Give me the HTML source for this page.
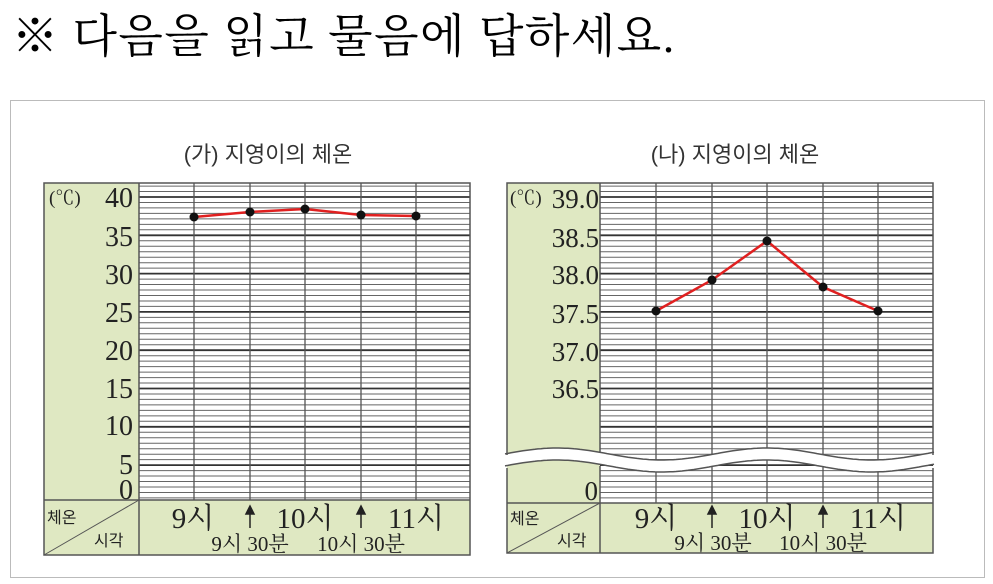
<!DOCTYPE html>
<html><head><meta charset="utf-8"><style>
body{margin:0;background:#fff;width:993px;height:584px;overflow:hidden}
svg{position:absolute;left:0;top:0}
.k{font-family:"Liberation Sans","Noto Sans CJK KR",sans-serif}
.s{font-family:"Liberation Serif","Noto Serif CJK KR","Noto Serif CJK SC",serif}
</style></head><body>
<svg id="g" width="993" height="584" xmlns="http://www.w3.org/2000/svg">
<text x="12" y="52" font-size="46" class="s" fill="#000" letter-spacing="1.5">※ 다음을 읽고 물음에 답하세요.</text>
<rect x="10.5" y="100.5" width="974" height="477" fill="none" stroke="#bbb"/>
<text x="268" y="162" font-size="22" class="k" text-anchor="middle" fill="#333">(가) 지영이의 체온</text>
<text x="735" y="162" font-size="22" class="k" text-anchor="middle" fill="#333">(나) 지영이의 체온</text>
<!-- left chart -->
<rect x="44" y="183" width="95" height="372" fill="#dfe8c2"/>
<rect x="139" y="500" width="331" height="55" fill="#dfe8c2"/>
<g id="L"></g>
<rect x="44" y="183" width="426" height="372" fill="none" stroke="#555" stroke-width="1.5"/>
<line x1="139" y1="183" x2="139" y2="555" stroke="#555" stroke-width="1.5"/>
<line x1="44" y1="500" x2="470" y2="500" stroke="#555" stroke-width="1.5"/>
<line x1="44" y1="555" x2="139" y2="500" stroke="#555"/>
<g class="s" font-size="28" fill="#222" text-anchor="end">
<text x="133" y="207">40</text><text x="133" y="246">35</text><text x="133" y="284">30</text><text x="133" y="322">25</text><text x="133" y="360">20</text><text x="133" y="398">15</text><text x="133" y="435">10</text><text x="133" y="474">5</text><text x="133" y="499">0</text>
</g>
<text x="49" y="204" class="s" font-size="19" fill="#222">(℃)</text>
<text x="47" y="523" class="k" font-size="16" fill="#222">체온</text>
<text x="94" y="546" class="k" font-size="16" fill="#222">시각</text>
<g class="s" font-size="29" fill="#222" text-anchor="middle">
<text x="193" y="528">9시</text><text x="305" y="528">10시</text><text x="416" y="528">11시</text></g>
<g class="s" font-size="21" fill="#222" text-anchor="middle">
<text x="250" y="551">9시 30분</text><text x="361" y="551">10시 30분</text></g>
<polyline points="194,217 250,212 305,209 361,215 416,216" fill="none" stroke="#e02020" stroke-width="2.5"/>
<g fill="#111"><circle cx="194" cy="217" r="4.5"/><circle cx="250" cy="212" r="4.5"/><circle cx="305" cy="209" r="4.5"/><circle cx="361" cy="215" r="4.5"/><circle cx="416" cy="216" r="4.5"/></g>
<!-- right chart -->
<rect x="507" y="183" width="93" height="370" fill="#dfe8c2"/>
<rect x="600" y="503" width="333" height="50" fill="#dfe8c2"/>
<g id="R"></g>
<path id="wf" fill="#fff"/>
<path id="w1" fill="none" stroke="#555" stroke-width="1.5"/>
<path id="w2" fill="none" stroke="#555" stroke-width="1.5"/>
<path d="M507,455 L507,183 L933,183 L933,455 M507,468 L507,553 L933,553 L933,468" fill="none" stroke="#555" stroke-width="1.5"/>
<line x1="600" y1="183" x2="600" y2="452" stroke="#555" stroke-width="1.5"/>
<line x1="600" y1="466" x2="600" y2="553" stroke="#555" stroke-width="1.5"/>
<line x1="507" y1="503" x2="933" y2="503" stroke="#555" stroke-width="1.5"/>
<line x1="507" y1="553" x2="600" y2="503" stroke="#555"/>
<g class="s" font-size="27" fill="#222" text-anchor="end">
<text x="599" y="208">39.0</text><text x="599" y="247">38.5</text><text x="599" y="284">38.0</text><text x="599" y="323">37.5</text><text x="599" y="361">37.0</text><text x="599" y="398">36.5</text><text x="598" y="500">0</text>
</g>
<text x="510" y="204" class="s" font-size="19" fill="#222">(℃)</text>
<text x="510" y="524" class="k" font-size="16" fill="#222">체온</text>
<text x="557" y="546" class="k" font-size="16" fill="#222">시각</text>
<g class="s" font-size="29" fill="#222" text-anchor="middle">
<text x="656" y="528">9시</text><text x="767" y="528">10시</text><text x="878" y="528">11시</text></g>
<g class="s" font-size="21" fill="#222" text-anchor="middle">
<text x="713" y="550">9시 30분</text><text x="823" y="550">10시 30분</text></g>
<polyline points="656,311 712,280 767,241 823,287 878,311" fill="none" stroke="#e02020" stroke-width="2.5"/>
<g fill="#111"><circle cx="656" cy="311" r="4.5"/><circle cx="712" cy="280" r="4.5"/><circle cx="767" cy="241" r="4.5"/><circle cx="823" cy="287" r="4.5"/><circle cx="878" cy="311" r="4.5"/></g>
<g stroke="#222" stroke-width="1.5" fill="#222">
<line x1="250" y1="528" x2="250" y2="512"/><path d="M246,514 L250,506 L254,514Z"/>
<line x1="361" y1="528" x2="361" y2="512"/><path d="M357,514 L361,506 L365,514Z"/>
<line x1="712" y1="528" x2="712" y2="512"/><path d="M708,514 L712,506 L716,514Z"/>
<line x1="823" y1="528" x2="823" y2="512"/><path d="M819,514 L823,506 L827,514Z"/>
</g>
</svg>
<script>
function grid(id,x0,x1,y0,y1,vx){var g=document.getElementById(id),h='',st=38.3/7;
for(var k=-2;;k++){var y=197+k*st;if(y>y1)break;if(y<y0+1)continue;
var th=(k%7==0);h+='<line x1="'+x0+'" x2="'+x1+'" y1="'+y.toFixed(1)+'" y2="'+y.toFixed(1)+'" stroke="'+(th?'#333':'#666')+'" stroke-width="'+(th?1.8:1)+'"/>';}
vx.forEach(function(x){h+='<line x1="'+x+'" x2="'+x+'" y1="'+y0+'" y2="'+y1+'" stroke="#555" stroke-width="1.3"/>';});
g.innerHTML=h;}
grid('L',139,470,183,500,[194,250,305,361,416]);
grid('R',600,933,183,503,[656,712,767,823,878]);
function wy(x){return 460-6*Math.cos(2*Math.PI*(x-767)/210);}
var a=[],b=[];for(var x=505;x<=936;x+=3){a.push(x+','+(wy(x)-6).toFixed(1));b.push(x+','+(wy(x)+6).toFixed(1));}
document.getElementById('w1').setAttribute('d','M'+a.join(' L'));
document.getElementById('w2').setAttribute('d','M'+b.join(' L'));
document.getElementById('wf').setAttribute('d','M'+a.join(' L')+' L'+b.slice().reverse().join(' L')+'Z');
</script>
</body></html>
